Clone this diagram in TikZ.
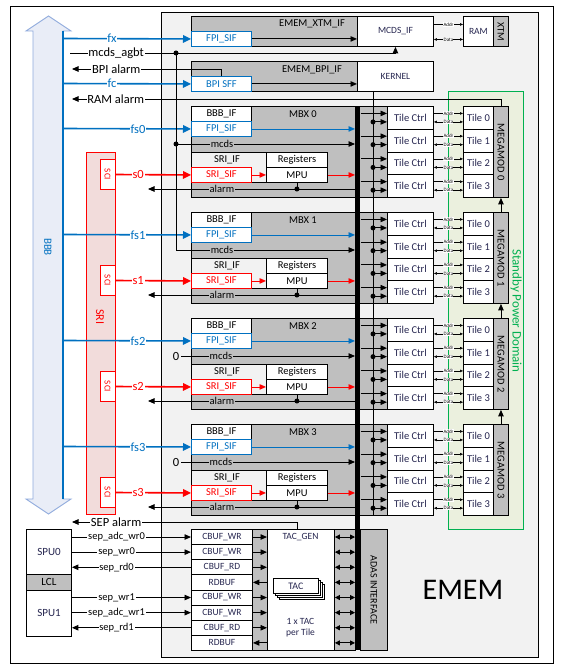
\documentclass[tikz,border=0pt]{standalone}
\usepackage{fontspec}
\setmainfont{Carlito}
\usetikzlibrary{arrows.meta}

\definecolor{bbbblue}{HTML}{0070C0}
\definecolor{srired}{HTML}{FF0000}
\definecolor{sbgreen}{HTML}{00B050}
\definecolor{emembg}{HTML}{F2F2F2}
\definecolor{blkgrey}{HTML}{BFBFBF}
\definecolor{bbbfill}{HTML}{E9EDF7}
\definecolor{bbbedge}{HTML}{8FAADC}
\definecolor{srifill}{HTML}{F2DCDB}
\definecolor{sbfill}{HTML}{EBF0DE}
\definecolor{navytext}{HTML}{262650}

\newcommand{\figfont}[1]{\fontsize{#1pt}{#1pt}\selectfont}

\tikzset{
  bx/.style={draw, fill=white, inner sep=0pt, anchor=north west, font=\figfont{10.5}},
  gbx/.style={bx, fill=blkgrey},
  fpibox/.style={bx, draw=bbbblue, text=bbbblue, minimum width=60, minimum height=15},
  sifbox/.style={bx, draw=srired, text=srired, minimum width=60, minimum height=15},
  tcbox/.style={bx, text=navytext, minimum width=46, minimum height=22.75},
  tilebox/.style={bx, text=navytext, minimum width=30, minimum height=22.75},
  cbbox/.style={bx, text=navytext, font=\figfont{9.5}, minimum width=61, minimum height=15.125},
  lbl/.style={fill=white, inner sep=0.8pt, font=\figfont{12.5}},
  glbl/.style={fill=blkgrey, inner sep=0.8pt, font=\figfont{10.5}},
  slbl/.style={fill=white, inner sep=0.8pt, font=\figfont{10.5}},
  adlbl/.style={fill=white, inner sep=0.3pt, font=\figfont{5}},
  fline/.style={bbbblue, line width=1.6pt, -{Triangle[length=8pt,width=7.5pt]}},
  sline/.style={srired, line width=1.6pt, -{Triangle[length=8pt,width=7.5pt]}},
  tiny/.style={line width=0.5pt, -{Triangle[length=3pt,width=2.5pt]}},
  tinyboth/.style={line width=0.5pt, {Triangle[length=3pt,width=2.5pt]}-{Triangle[length=3pt,width=2.5pt]}},
  dbl/.style={{Triangle[length=5pt,width=5pt]}-{Triangle[length=5pt,width=5pt]}},
}

\begin{document}
\begin{tikzpicture}[x=1pt, y=-1pt, line width=0.9pt, >={Triangle[length=6.5pt,width=5.5pt]}]
  \useasboundingbox (0,0) rectangle (567,666);

  % outer frame and EMEM area
  \draw (10,6) rectangle (553,663);
  \draw[fill=emembg] (161,12) rectangle (538,657);
  \node[draw=sbgreen, fill=sbfill, line width=1pt, anchor=north west, minimum width=75, minimum height=438, inner sep=0pt] (sbd) at (448,91) {};
  \node[rotate=-90, text=sbgreen, font=\figfont{13}] (sbdt) at (516,311) {Standby Power Domain};
  \node[font=\figfont{30}] (ememt) at (463,590) {EMEM};

  % BBB bus arrow
  \path[draw=bbbedge, fill=bbbfill] (33,31) -- (26,31) -- (48.5,16) -- (71,31) -- (63,31) -- (63,499)
    -- (71,499) -- (48.5,514) -- (26,499) -- (33,499) -- cycle;
  \coordinate (bbbtop) at (63,31);
  \coordinate (bbbbot) at (63,499);
  \draw[bbbblue, line width=1.6pt] (bbbtop) -- (bbbbot);
  \node[rotate=-90, text=bbbblue, font=\figfont{11}] (bbbt) at (48,247) {BBB};

  % SRI bus
  \node[draw=srired, fill=srifill, anchor=north west, minimum width=29, minimum height=362, inner sep=0pt] (sri) at (86,152) {};
  \node[rotate=-90, text=srired, font=\figfont{12}] (srit) at (100,317) {SRI};

  % XTM and BPI interfaces
  \node[gbx, minimum width=166, minimum height=30] (xtmif) at (191,16) {};
  \node[font=\figfont{10.5}] (xtmift) at (312,24) {EMEM\_XTM\_IF};
  \node[fpibox] (xfpi) at (191,31) {FPI\_SIF};
  \node[bx, text=navytext, font=\figfont{9.5}, minimum width=76, minimum height=30] (mcdsif) at (357,16) {MCDS\_IF};
  \node[bx, text=navytext, font=\figfont{9.5}, minimum width=30, minimum height=30] (ram) at (463,16) {RAM};
  \node[gbx, minimum width=15, minimum height=30] (xtm) at (493,16) {};
  \node[rotate=-90, font=\figfont{10}] (xtmt) at (xtm) {XTM};
  \node[gbx, minimum width=166, minimum height=30] (bpiif) at (191,61) {};
  \node[font=\figfont{10.5}] (bpiift) at (312,70) {EMEM\_BPI\_IF};
  \node[fpibox] (bpisff) at (191,76) {BPI SFF};
  \node[bx, text=navytext, font=\figfont{9.5}, minimum width=76, minimum height=30] (kernel) at (357,61) {KERNEL};

  \draw[->] (xfpi.east) -- (xfpi.east -| mcdsif.west);
  \draw[->] (bpisff.east) -- (bpisff.east -| kernel.west);
  \path (mcdsif.east) ++(0,-7) coordinate (xa) ++(0,15) coordinate (xd);
  \draw[tiny] (xa) -- node[adlbl]{Addr} (xa -| ram.west);
  \draw[tinyboth] (xd) -- node[adlbl]{Data} (xd -| ram.west);

  % MBX frames
  \foreach \mb/\ty in {0/106,1/212,2/318,3/424}
    \node[gbx, minimum width=196, minimum height=91] (mbx\mb) at (191,\ty) {};

  % TAC block
  \node[gbx, minimum width=15, minimum height=121] (strip1) at (252,529) {};
  \node[bx, minimum width=67, minimum height=121] (tacgen) at (267,529) {};
  \node[gbx, minimum width=21, minimum height=121] (strip2) at (334,529) {};
  \node[gbx, minimum width=27, minimum height=121] (adas) at (360,529) {};
  \node[rotate=-90, font=\figfont{10}] (adast) at (adas) {ADAS INTERFACE};

  % central bus and kernel line
  \node[fill=black, anchor=north west, minimum width=5, minimum height=544, inner sep=0pt] (bus) at (355,106) {};
  \coordinate (kbus) at (373,91);

  % MBX contents
  \foreach \mb/\ty in {0/106,1/212,2/318,3/424}{
    \node[font=\figfont{10.5}] (mbxt\mb) at (303,\ty+8) {MBX \mb};
    \node[bx, minimum width=60, minimum height=15] (bbbif\mb) at (191,\ty) {BBB\_IF};
    \node[fpibox] (fpi\mb) at (191,\ty+15) {FPI\_SIF};
    \node[bx, fill=emembg, minimum width=75, minimum height=30] (sriif\mb) at (191,\ty+46) {};
    \node[font=\figfont{10.5}] (sriift\mb) at (227,\ty+53.5) {SRI\_IF};
    \node[sifbox] (srisif\mb) at (191,\ty+61) {SRI\_SIF};
    \node[bx, minimum width=61, minimum height=15] (reg\mb) at (266,\ty+46) {Registers};
    \node[bx, minimum width=61, minimum height=15] (mpu\mb) at (266,\ty+61) {MPU};

    \draw[bbbblue, ->] (fpi\mb.east) -- (fpi\mb.east -| bus.west);
    \draw[srired, ->] (srisif\mb.east) -- (mpu\mb.west);
    \draw[srired, ->] (mpu\mb.east) -- (mpu\mb.east -| bus.west);
    \coordinate (al\mb) at (148,\ty+83);
    \draw[->] (al\mb -| bus.west) -- node[pos=0.643, glbl]{alarm} (al\mb);
    \draw (mpu\mb.south) -- (al\mb -| mpu\mb.south);
    \fill (al\mb -| mpu\mb.south) circle (2.5pt);

    % links from BBB and SRI
    \coordinate (fsin\mb) at (63,\ty+22.5);
    \draw[fline] (fsin\mb) -- node[pos=0.586, lbl, text=bbbblue]{fs\mb} (fpi\mb.west);
    \node[draw=srired, fill=white, minimum width=15, minimum height=30, inner sep=0pt] (sci\mb) at (107.5,\ty+68.5) {};
    \node[rotate=-90, text=srired, font=\figfont{9}] (scit\mb) at (sci\mb) {SCI};
    \draw[sline] (sci\mb.east) -- node[pos=0.3, lbl, text=srired]{s\mb} (srisif\mb.west);

    % tiles
    \node[gbx, minimum width=15, minimum height=91] (mm\mb) at (493,\ty) {};
    \node[rotate=-90, font=\figfont{10.5}] (mmt\mb) at (mm\mb) {MEGAMOD \mb};
    \foreach \tr in {0,...,3}{
      \node[tcbox] (tc\mb\tr) at (387,\ty+\tr*22.75) {Tile Ctrl};
      \node[tilebox] (tl\mb\tr) at (463,\ty+\tr*22.75) {Tile \tr};
      \path (tc\mb\tr.west) ++(0,-4.4) coordinate (ua) ++(0,8.5) coordinate (la);
      \draw[->] (ua -| bus.east) -- (ua);
      \draw[->] (la -| kbus) -- (la);
      \fill (la -| kbus) circle (2.5pt);
      \path (tc\mb\tr.east) ++(0,-4.4) coordinate (ub) ++(0,8.5) coordinate (lb);
      \draw[tiny] (ub) -- node[adlbl]{Addr} (ub -| tl\mb\tr.west);
      \draw[tinyboth] (lb) -- node[adlbl]{Data} (lb -| tl\mb\tr.west);
    }
  }
  \draw (kbus) -- (kbus |- tc33.south);

  % alarm chain of the megamods
  \foreach \from/\to in {1/0, 2/1, 3/2}
    \draw[->] (mm\from.north) -- (mm\to.south);

  % left side signals
  \coordinate (fxin) at (63,38.5);
  \coordinate (fcin) at (63,83.5);
  \coordinate (agbtin) at (70,53);
  \coordinate (bpiout) at (72,69);
  \coordinate (ramout) at (72,99);
  \coordinate (sepout) at (72,522);
  \draw[fline] (fxin) -- node[pos=0.383, lbl, text=bbbblue]{fx} (xfpi.west);
  \draw[fline] (fcin) -- node[pos=0.383, lbl, text=bbbblue]{fc} (bpisff.west);
  \draw[->] (agbtin) -| node[pos=0.0708, lbl]{mcds\_agbt} (mcdsif.south);
  \draw[->] (bpisff.north) |- node[pos=0.852, lbl]{BPI alarm} (bpiout);
  \draw[->] (mm0.north) |- node[pos=0.949, lbl]{RAM alarm} (ramout);

  % mcds distribution
  \coordinate (mcdsbus) at (176,53);
  \coordinate (mc0) at (176,144);
  \coordinate (mc1) at (176,250);
  \draw (mcdsbus) -- (mc1);
  \fill (mcdsbus) circle (2.5pt);
  \fill (mc0) circle (2.5pt);
  \foreach \mb in {0,1}
    \draw[->] (mc\mb) -- node[pos=0.257, glbl]{mcds} (mc\mb -| bus.west);
  \foreach \mb/\ty in {2/318,3/424}{
    \node[font=\figfont{12.5}, inner sep=1.5pt] (zero\mb) at (176,\ty+38) {0};
    \draw[->] (zero\mb) -- node[pos=0.229, glbl]{mcds} (zero\mb -| bus.west);
  }

  % SEP side
  \node[bx, text=navytext, font=\figfont{11}, minimum width=45, minimum height=45] (spu0) at (26,529) {SPU0};
  \node[gbx, font=\figfont{11}, minimum width=45, minimum height=16] (lcl) at (26,574) {LCL};
  \node[bx, text=navytext, font=\figfont{11}, minimum width=45, minimum height=46] (spu1) at (26,590) {SPU1};
  \foreach \tr/\nm in {0/CBUF\_WR,1/CBUF\_WR,2/CBUF\_RD,3/RDBUF,4/CBUF\_WR,5/CBUF\_WR,6/CBUF\_RD,7/RDBUF}
    \node[cbbox] (cb\tr) at (191,529+\tr*15.125) {\nm};

  \foreach \tr in {0,1,2,4,5,6}
    \draw[->] (cb\tr.east) -- (cb\tr.east -| tacgen.west);
  \foreach \tr in {3,7}
    \draw[<-] (cb\tr.east) -- (cb\tr.east -| tacgen.west);
  \foreach \tr in {0,...,7}
    \draw[dbl] (cb\tr.east -| tacgen.east) -- (cb\tr.east -| bus.west);

  \draw[->] (cb0.west -| spu0.east) -- node[pos=0.375, slbl]{sep\_adc\_wr0} (cb0.west);
  \draw[->] (cb1.west -| spu0.east) -- node[pos=0.375, slbl]{sep\_wr0} (cb1.west);
  \draw[<-] (cb2.west -| spu0.east) -- node[pos=0.375, slbl]{sep\_rd0} (cb2.west);
  \draw[->] (cb4.west -| spu1.east) -- node[pos=0.375, slbl]{sep\_wr1} (cb4.west);
  \draw[->] (cb5.west -| spu1.east) -- node[pos=0.375, slbl]{sep\_adc\_wr1} (cb5.west);
  \draw[<-] (cb6.west -| spu1.east) -- node[pos=0.375, slbl]{sep\_rd1} (cb6.west);
  \draw[->] ([xshift=-4pt]tacgen.north) |- node[pos=0.902, lbl]{SEP alarm} (sepout);

  % TAC instances
  \node[font=\figfont{9.5}, text=navytext] (tacgent) at (300.5,537) {TAC\_GEN};
  \foreach \o in {6,4,2}
    \node[bx, minimum width=45, minimum height=15] (tacb\o) at (273+\o,578+\o) {};
  \node[bx, text=navytext, font=\figfont{10}, minimum width=45, minimum height=15] (tac) at (273,578) {TAC};
  \node[align=center, text=navytext, font=\fontsize{9.5pt}{11pt}\selectfont] (tacn) at (300.5,627.5) {1 x TAC\\per Tile};
\end{tikzpicture}
\end{document}
